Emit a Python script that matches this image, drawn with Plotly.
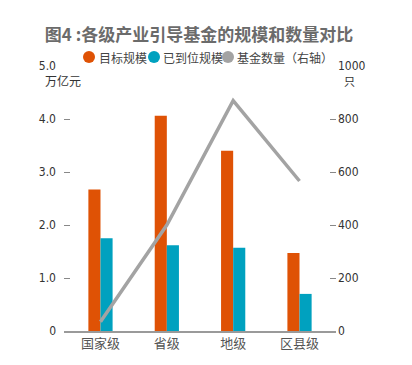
import plotly.graph_objects as go

categories = ['国家级', '省级', '地级', '区县级']
target_scale = [2.67, 4.06, 3.40, 1.47]      # 目标规模 (万亿元)
paid_in_scale = [1.75, 1.62, 1.57, 0.70]     # 已到位规模 (万亿元)
fund_count = [35, 400, 869, 566]             # 基金数量 (只, 右轴)

left_tick_vals = [0, 1, 2, 3, 4, 5]
left_tick_text = ['0', '1.0', '2.0', '3.0', '4.0', '5.0']
right_tick_vals = [0, 200, 400, 600, 800, 1000]
right_tick_text = ['0', '200', '400', '600', '800', '1000']

series_names = ['目标规模', '已到位规模', '基金数量（右轴）']

ORANGE = '#DF5205'
TEAL = '#00A1BF'
GRAY = '#A3A3A3'
series_colors = [ORANGE, TEAL, GRAY]

CJK = 'Noto Sans CJK SC, sans-serif'
NUM = 'Liberation Sans Narrow, DejaVu Sans Condensed, Roboto Condensed, Roboto, sans-serif'

OFF = 8                      # browser body margin
W, H = 412 - OFF, 365 - OFF  # figure size
# plot area in window pixels
PL, PR, PT, PB = 64, 336, 66, 331
pw, ph = PR - PL, PB - PT
margin = dict(l=PL - OFF, r=W - (PR - OFF), t=PT - OFF, b=H - (PB - OFF))


def px_x(x):
    return (x - PL) / pw


def px_y(y):
    return (PB - y) / ph


fig = go.Figure()
fig.add_bar(x=categories, y=target_scale, name=series_names[0], marker_color=ORANGE,
            marker_line_width=0, showlegend=False)
fig.add_bar(x=categories, y=paid_in_scale, name=series_names[1], marker_color=TEAL,
            marker_line_width=0, showlegend=False)
fig.add_scatter(x=categories, y=fund_count, name=series_names[2], yaxis='y2',
                mode='lines', line=dict(color=GRAY, width=3.5), showlegend=False)

# legend: circles + labels
legend_circle_cx = [89, 154, 228]
legend_text_x = [97, 161, 235]
legend_cy = 57
shapes = []
annotations = []
for cx, tx, name, col in zip(legend_circle_cx, legend_text_x, series_names, series_colors):
    shapes.append(dict(type='circle', xref='paper', yref='paper',
                       x0=px_x(cx - 6), x1=px_x(cx + 6), y0=px_y(legend_cy + 6), y1=px_y(legend_cy - 6),
                       fillcolor=col, line=dict(width=0)))
    annotations.append(dict(text=name, xref='paper', yref='paper', x=px_x(tx), y=px_y(legend_cy),
                            xanchor='left', yanchor='middle', showarrow=False,
                            font=dict(family=CJK, size=12, color='#444444')))

annotations += [
    dict(text='万亿元', xref='paper', yref='paper', x=px_x(43), y=px_y(80),
         xanchor='left', yanchor='middle', showarrow=False,
         font=dict(family=CJK, size=12, color='#333333')),
    dict(text='只', xref='paper', yref='paper', x=px_x(349), y=px_y(81),
         xanchor='center', yanchor='middle', showarrow=False,
         font=dict(family=CJK, size=11, color='#333333')),
]

fig.update_layout(
    width=W, height=H,
    margin=margin,
    paper_bgcolor='white', plot_bgcolor='white',
    barmode='group', bargap=0.635, bargroupgap=0,
    showlegend=False,
    title=dict(text='图4 :各级产业引导基金的规模和数量对比', x=(199 - OFF) / W, xref='container',
               xanchor='center', y=1 - (35 - OFF) / H, yref='container', yanchor='middle',
               font=dict(family=CJK, size=17, color='#6B6B6B', weight='bold')),
    xaxis=dict(type='category', range=[-0.55, 3.55], showline=True, linecolor='#9A9A9A',
               linewidth=1.5, ticks='', showgrid=False, zeroline=False,
               tickfont=dict(family=CJK, size=13, color='#555555')),
    yaxis=dict(range=[0, 5], tickvals=left_tick_vals, ticktext=left_tick_text,
               ticks='inside', ticklen=6, tickcolor='#888888', tickwidth=1,
               showgrid=False, zeroline=False, showline=False,
               ticklabelstandoff=7,
               tickfont=dict(family=NUM, size=12, color='#333333')),
    yaxis2=dict(range=[0, 1000], overlaying='y', side='right',
                tickvals=right_tick_vals, ticktext=right_tick_text,
                ticks='inside', ticklen=6, tickcolor='#888888', tickwidth=1,
                showgrid=False, zeroline=False, showline=False,
                ticklabelstandoff=1,
                tickfont=dict(family=NUM, size=12, color='#333333')),
    shapes=shapes,
    annotations=annotations,
)

fig.write_html('out.html')
